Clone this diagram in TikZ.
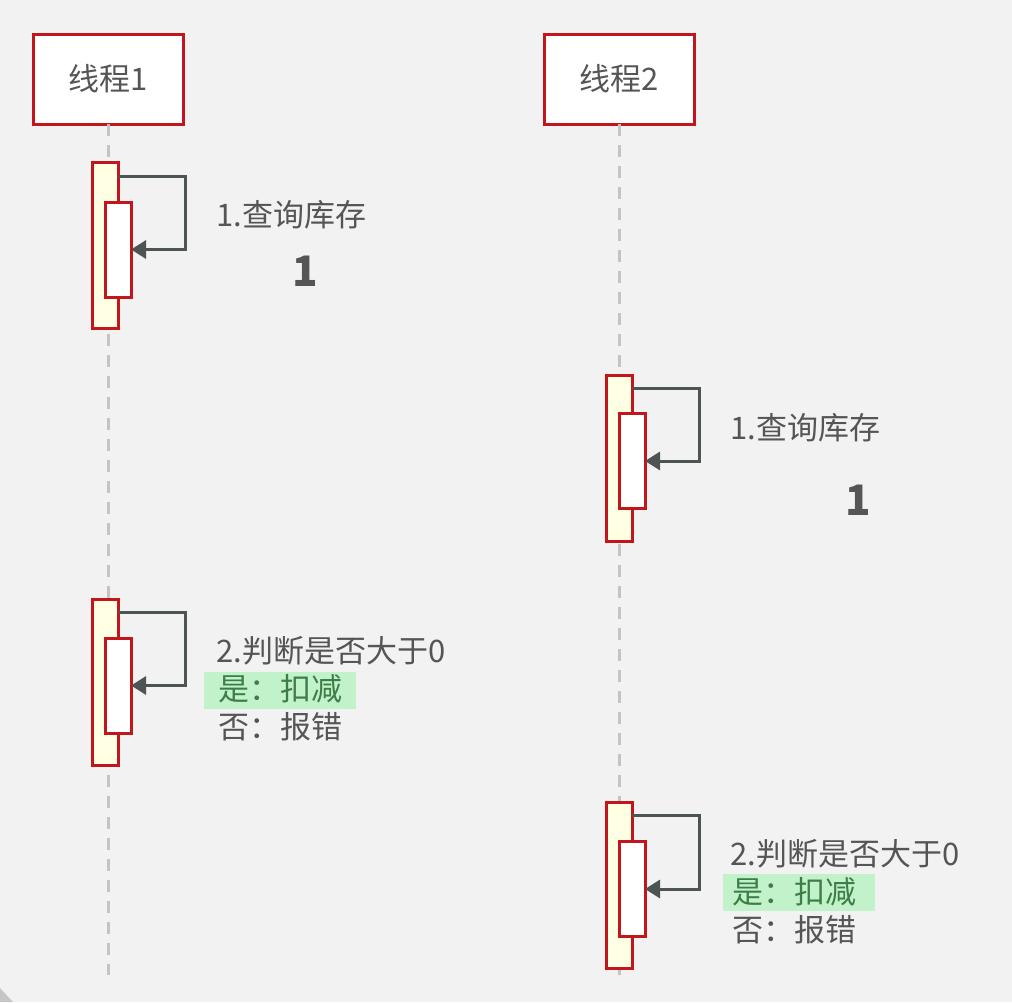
\documentclass[tikz,border=0pt]{standalone}
\usepackage{fontspec}
\setmainfont{Noto Sans CJK SC}
\usetikzlibrary{arrows.meta}
\definecolor{bg}{HTML}{F2F2F2}
\definecolor{redb}{HTML}{C3151C}
\definecolor{txt}{HTML}{555555}
\definecolor{arr}{HTML}{4C5554}
\definecolor{life}{HTML}{C4C4C4}
\definecolor{actfill}{HTML}{FFFFE3}
\definecolor{hlfill}{HTML}{C1F2CA}
\definecolor{hltxt}{HTML}{3E7D47}
\begin{document}
\begin{tikzpicture}[x=1pt,y=-1pt,
  head/.style={draw=redb, fill=white, line width=3pt, minimum width=150pt, minimum height=90pt, inner sep=0pt, outer sep=0pt, text=txt, font=\fontsize{31}{36}\selectfont},
  lifeline/.style={draw=life, line width=3pt, dash pattern=on 12pt off 9pt},
  outerbar/.style={draw=redb, fill=actfill, line width=3pt, minimum width=26pt, minimum height=166pt, inner sep=0pt, outer sep=0pt},
  innerbar/.style={draw=redb, fill=white, line width=3pt, minimum width=26pt, minimum height=95pt, inner sep=0pt, outer sep=0pt},
  msg/.style={draw=arr, line width=3pt, -{Triangle[length=15pt,width=18pt]}},
  lbl/.style={anchor=west, inner sep=0pt, text=txt, font=\fontsize{31}{36}\selectfont},
  big/.style={inner sep=0pt, text=txt, font=\fontsize{42}{46}\selectfont\bfseries},
  hlbox/.style={fill=hlfill, inner sep=0pt, minimum width=152pt, minimum height=37pt},
  hllbl/.style={anchor=west, inner sep=0pt, text=hltxt, font=\fontsize{31}{36}\selectfont}
]
\fill[bg] (0,0) rectangle (1012,1002);
\useasboundingbox (0,0) rectangle (1012,1002);
\fill[gray!45] (0,988) -- (13,1002) -- (0,1002) -- cycle;

% heads
\node[head] (h1) at (108,79) {线程1};
\node[head] (h2) at (619,79) {线程2};

% lifelines
\coordinate (e1) at (108,975);
\coordinate (e2) at (619,975);
\draw[lifeline] (h1.south) -- (e1);
\draw[lifeline] (h2.south) -- (e2);

% thread 1, step 1
\node[outerbar] (o1) at (105,245) {};
\node[innerbar] (i1) at (118,249.5) {};
\draw[msg] ([yshift=-14pt]o1.north east) -- ++(67,0) |- (i1.east);
\node[lbl] (t1) at (216,215) {1.查询库存};
\node[big] (n1) at (305,271) {1};

% thread 2, step 1
\node[outerbar] (o2) at (619,458) {};
\node[innerbar] (i2) at (632,461) {};
\draw[msg] ([yshift=-13pt]o2.north east) -- ++(67,0) |- (i2.east);
\node[lbl] (t2) at (730,428) {1.查询库存};
\node[big] (n2) at (858,500) {1};

% thread 1, step 2
\node[outerbar] (o3) at (105,682) {};
\node[innerbar] (i3) at (118,685.5) {};
\draw[msg] ([yshift=-13pt]o3.north east) -- ++(67,0) |- (i3.east);
\node[lbl] (t3a) at (216,651) {2.判断是否大于0};
\node[hlbox] (hl3) at (280,690.5) {};
\node[hllbl] (t3b) at (218,689) {是：扣减};
\node[lbl] (t3c) at (218,727) {否：报错};

% thread 2, step 2
\node[outerbar] (o4) at (619,885) {};
\node[innerbar] (i4) at (632,889) {};
\draw[msg] ([yshift=-13pt]o4.north east) -- ++(67,0) |- (i4.east);
\node[lbl] (t4a) at (730,854) {2.判断是否大于0};
\node[hlbox] (hl4) at (799,892.5) {};
\node[hllbl] (t4b) at (732,892) {是：扣减};
\node[lbl] (t4c) at (732,930) {否：报错};
\end{tikzpicture}
\end{document}
